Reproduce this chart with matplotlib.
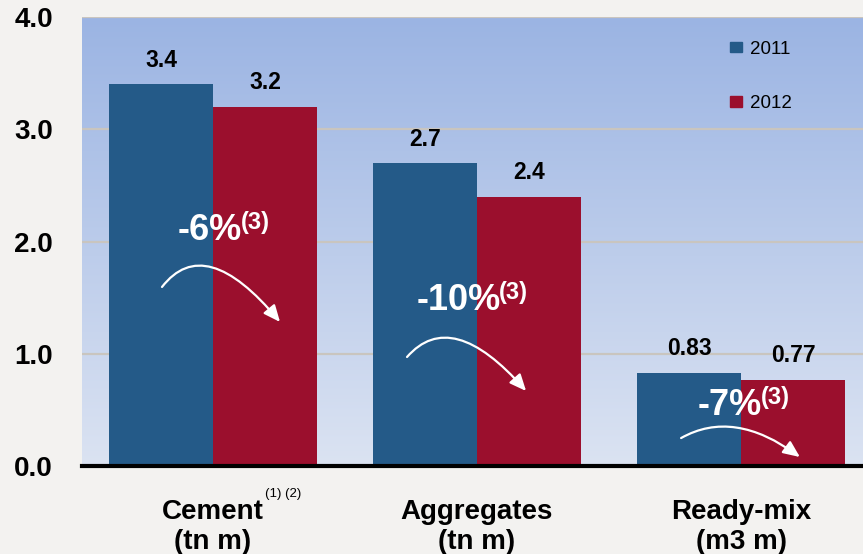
import numpy as np
import matplotlib
matplotlib.use('Agg')
from matplotlib import pyplot as plt
from matplotlib.colors import LinearSegmentedColormap
from matplotlib.patches import Patch, FancyArrowPatch
from matplotlib.path import Path

plt.rcParams['font.family'] = ['Liberation Sans', 'DejaVu Sans']

categories = ['Cement\n(tn m)', 'Aggregates\n(tn m)', 'Ready-mix\n(m3 m)']
years = ['2011', '2012']
vals_2011 = [3.4, 2.7, 0.83]
vals_2012 = [3.2, 2.4, 0.77]
labels_2011 = ['3.4', '2.7', '0.83']
labels_2012 = ['3.2', '2.4', '0.77']
changes = ['-6%', '-10%', '-7%']
yticks = [0.0, 1.0, 2.0, 3.0, 4.0]

c11 = '#245a88'
c12 = '#9b0f2d'

# layout of the change annotations, relative to each group centre (data units)
txt_pos = [(0.11, 2.01), (0.09, 1.39), (0.08, 0.455)]
arr_start = [(-0.193, 1.595), (-0.265, 0.971), (-0.227, 0.249)]
arr_peak = [(0.0, 1.764), (-0.068, 1.122), (-0.015, 0.339)]
arr_end = [(0.254, 1.283), (0.186, 0.668), (0.223, 0.080)]

fig = plt.figure(figsize=(8.63, 5.54), dpi=100)
fig.patch.set_facecolor('#f3f2f0')
ax = fig.add_axes([82/863, 1-466/554, 781/863, 449/554])

x = np.arange(len(categories))
w = 0.394
xl = (-0.496, 2.462)

# gradient background
cmap = LinearSegmentedColormap.from_list('bg', ['#dbe3f2', '#9bb4e3'])
ax.imshow(np.linspace(0, 1, 256).reshape(-1, 1), cmap=cmap, origin='lower',
          extent=[xl[0], xl[1], 0, 4], aspect='auto', zorder=0)

ax.set_axisbelow(True)
ax.grid(axis='y', color='#c9c5bf', lw=1.6)
ax.grid(axis='x', visible=False)

b1 = ax.bar(x - w/2, vals_2011, w, color=c11, zorder=2)
b2 = ax.bar(x + w/2, vals_2012, w, color=c12, zorder=2)

for bars, labs in ((b1, labels_2011), (b2, labels_2012)):
    for b, lab in zip(bars, labs):
        ax.annotate(lab, (b.get_x() + b.get_width()/2, b.get_height()),
                    xytext=(0, 12.5), textcoords='offset points',
                    ha='center', va='baseline', fontsize=16.5, fontweight='bold')

for i in range(len(categories)):
    tx, ty = txt_pos[i]
    ax.text(x[i] + tx, ty, changes[i], color='white', fontsize=26,
            fontweight='bold', ha='right', va='baseline', zorder=5)
    ax.annotate('(3)', (x[i] + tx, ty), xytext=(-1, 8), textcoords='offset points',
                color='white', fontsize=17, fontweight='bold',
                ha='left', va='baseline', zorder=5)
    p0 = np.array(arr_start[i]) + [x[i], 0]
    pk = np.array(arr_peak[i]) + [x[i], 0]
    p2 = np.array(arr_end[i]) + [x[i], 0]
    c = 2*pk - 0.5*(p0 + p2)
    path = Path([p0, c, p2], [Path.MOVETO, Path.CURVE3, Path.CURVE3])
    ar = FancyArrowPatch(path=path, arrowstyle='-|>,head_length=0.5,head_width=0.22',
                         mutation_scale=20, color='white', lw=1.6,
                         transform=ax.transData, zorder=5)
    ax.add_patch(ar)

ax.set_xlim(*xl)
ax.set_ylim(0, 4)
ax.set_yticks(yticks)
ax.set_yticklabels(['%.1f' % v for v in yticks], fontsize=20, fontweight='bold')
ax.set_xticks(x)
ax.set_xticklabels(categories, fontsize=20, fontweight='bold', linespacing=1.2)
ax.tick_params(axis='both', length=0)
ax.tick_params(axis='y', pad=21)
ax.tick_params(axis='x', pad=24)

ax.annotate('(1) (2)', (0.197, -0.048), xycoords=ax.get_xaxis_transform(),
            fontsize=9.5, ha='left', va='top', annotation_clip=False)

for s in ('left', 'right', 'top'):
    ax.spines[s].set_visible(False)
ax.spines['bottom'].set_color('black')
ax.spines['bottom'].set_linewidth(3)

handles = [Patch(color=c11, label=years[0]), Patch(color=c12, label=years[1])]
ax.legend(handles=handles, loc='upper left', bbox_to_anchor=(0.818, 0.968),
          frameon=False, fontsize=13.5, handlelength=0.65, handleheight=0.5,
          handletextpad=0.4, labelspacing=2.0, borderpad=0)

fig.savefig('out.png', dpi=100, facecolor=fig.get_facecolor())
